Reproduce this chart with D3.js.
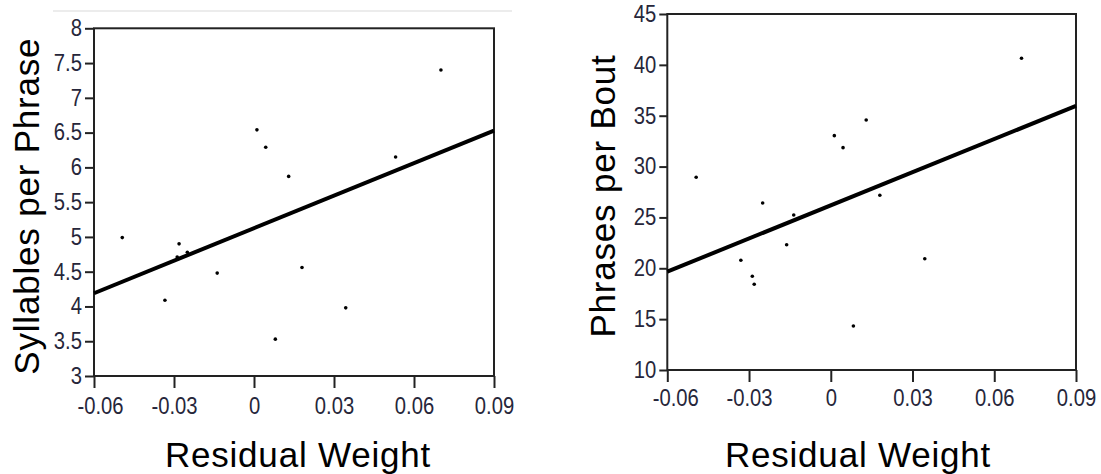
<!DOCTYPE html>
<html>
<head>
<meta charset="utf-8">
<script src="https://cdn.jsdelivr.net/npm/d3@7"></script>
<style>
  body { margin: 0; background: #fff; }
  svg { display: block; font-family: "Liberation Sans", Arial, sans-serif; }
  .tick line { stroke: #222; stroke-width: 2px; }
  .title { font-size: 35px; fill: #000; letter-spacing: 0.8px; }
</style>
</head>
<body>
<div id="chart"></div>
<script>
// x ticks shared by both panels
var xTicks = [-0.06, -0.03, 0, 0.03, 0.06, 0.09];

// left panel: syllables per phrase
var leftX = [-0.0494, -0.0334, -0.0281, -0.0288, -0.025, -0.0138, 0.0011, 0.0044, 0.013, 0.018, 0.008, 0.0344, 0.0531, 0.0701];
var leftY = [4.99, 4.09, 4.90, 4.71, 4.78, 4.48, 6.54, 6.29, 5.87, 4.56, 3.53, 3.98, 6.15, 7.40];
var leftTicks = [3, 3.5, 4, 4.5, 5, 5.5, 6, 6.5, 7, 7.5, 8];
var leftFit = [4.19, 6.53];   // fitted y at x = -0.06 and 0.09

// right panel: phrases per bout
var rightX = [-0.0494, -0.033, -0.0288, -0.0281, -0.025, -0.0162, -0.0136, 0.0013, 0.0045, 0.013, 0.018, 0.0083, 0.0345, 0.070];
var rightY = [28.95, 20.79, 19.21, 18.43, 26.42, 22.32, 25.24, 33.04, 31.86, 34.58, 27.18, 14.33, 20.94, 40.65];
var rightTicks = [10, 15, 20, 25, 30, 35, 40, 45];
var rightFit = [19.67, 35.96];

var width = 1101, height = 474;
var squeeze = 0.88;   // tick labels are a narrow face

var svg = d3.select('#chart')
    .append('svg')
    .attr('width', width)
    .attr('height', height);

// faint line along the top of the left figure
svg.append('line')
    .attr('x1', 53).attr('x2', 512)
    .attr('y1', 11).attr('y2', 11)
    .attr('stroke', '#e6e6e6')
    .attr('stroke-width', 1.5);

var panels = [
    { xs: leftX, ys: leftY, yTicks: leftTicks, fit: leftFit, label: 'Syllables per Phrase',
      left: 94, right: 494, top: 28.3, bottom: 376, yTick: 9, yPad: 3, xPad: 10, firstShift: 6, yTitleX: 39, xTitleX: 298 },
    { xs: rightX, ys: rightY, yTicks: rightTicks, fit: rightFit, label: 'Phrases per Bout',
      left: 667.3, right: 1076, top: 14, bottom: 370, yTick: 8, yPad: 3, xPad: 8, firstShift: 8, yTitleX: 615, xTitleX: 858 }
];

function styleTicks(a) {
    a.select('.domain').remove();
    a.attr('font-size', null).attr('font-family', null);
    a.selectAll('.tick text')
        .style('font-size', '23px')
        .style('fill', '#26263a')
        .attr('x', function() { return (+d3.select(this).attr('x') || 0) / squeeze; })
        .attr('transform', 'scale(' + squeeze + ',1)');
}

panels.forEach(function(p) {
    var x = d3.scaleLinear()
        .domain([xTicks[0], xTicks[xTicks.length - 1]])
        .range([p.left, p.right]);
    var y = d3.scaleLinear()
        .domain([p.yTicks[0], p.yTicks[p.yTicks.length - 1]])
        .range([p.bottom, p.top]);

    var g = svg.append('g');

    // axes
    g.append('g')
        .attr('transform', 'translate(' + p.left + ',0)')
        .call(d3.axisLeft(y).tickValues(p.yTicks).tickFormat(function(d) { return String(d); })
            .tickSize(p.yTick).tickSizeOuter(0).tickPadding(p.yPad))
        .call(styleTicks);

    var xAxis = g.append('g')
        .attr('transform', 'translate(0,' + p.bottom + ')')
        .call(d3.axisBottom(x).tickValues(xTicks).tickFormat(function(d) { return String(d); })
            .tickSize(12).tickSizeOuter(0).tickPadding(p.xPad))
        .call(styleTicks);

    // first x label sits a little right of its tick
    xAxis.select('.tick text').attr('x', p.firstShift / squeeze);

    // frame
    g.append('rect')
        .attr('x', p.left).attr('y', p.top)
        .attr('width', p.right - p.left)
        .attr('height', p.bottom - p.top)
        .attr('fill', 'none')
        .attr('stroke', '#222')
        .attr('stroke-width', 2);

    // fitted line
    g.append('line')
        .attr('x1', x(xTicks[0])).attr('y1', y(p.fit[0]))
        .attr('x2', x(xTicks[xTicks.length - 1])).attr('y2', y(p.fit[1]))
        .attr('stroke', '#000')
        .attr('stroke-width', 4);

    // points
    g.append('g')
        .selectAll('circle')
        .data(p.xs.map(function(v, i) { return [v, p.ys[i]]; }))
        .enter()
        .append('circle')
        .attr('cx', function(d) { return x(d[0]); })
        .attr('cy', function(d) { return y(d[1]); })
        .attr('r', 1.8)
        .attr('fill', '#000');

    // titles
    g.append('text')
        .classed('title', true)
        .attr('x', p.xTitleX)
        .attr('y', 467)
        .attr('text-anchor', 'middle')
        .text('Residual Weight');

    g.append('text')
        .classed('title', true)
        .attr('transform', 'translate(' + p.yTitleX + ',' + ((p.top + p.bottom) / 2 + 4) + ') rotate(-90)')
        .attr('text-anchor', 'middle')
        .text(p.label);
});
</script>
</body>
</html>
